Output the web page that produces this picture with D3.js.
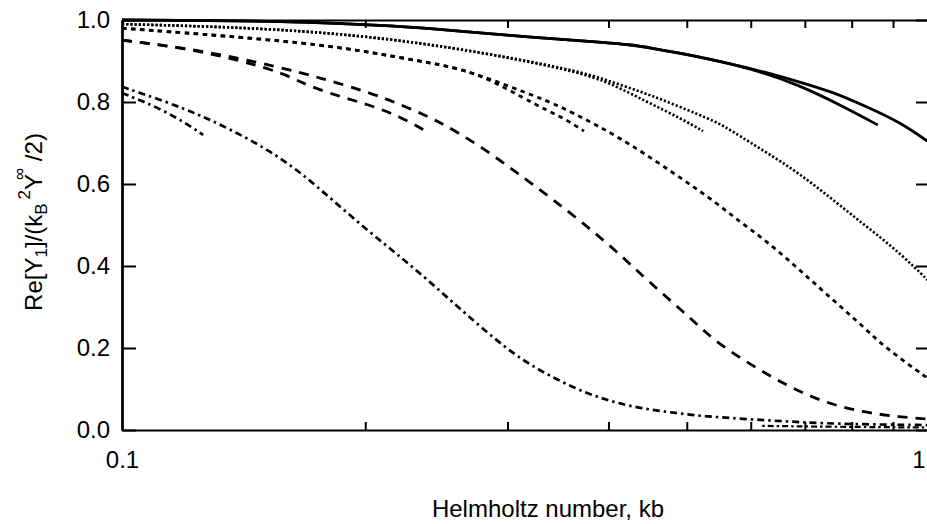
<!DOCTYPE html>
<html>
<head>
<meta charset="utf-8">
<script src="https://cdn.jsdelivr.net/npm/d3@7"></script>
<style>
  html, body { margin: 0; padding: 0; background: #fff; overflow: hidden; }
  svg { display: block; }
  text { font-family: "Liberation Sans", Arial, Helvetica, sans-serif; fill: #000; }
</style>
</head>
<body>
<svg id="chart" width="927" height="524"></svg>
<script>
// ---- Data (Helmholtz number kb, normalised Re[Y1]) ----
const solidLongKb   = [0.1, 0.1614, 0.2209, 0.2547, 0.311, 0.3905, 0.429, 0.450, 0.505, 0.599, 0.690, 0.759, 0.836, 0.918, 1.0];
const solidLongY    = [1.0, 0.998, 0.985, 0.975, 0.960, 0.946, 0.939, 0.932, 0.915, 0.883, 0.849, 0.824, 0.788, 0.751, 0.700];
const solidShortKb  = [0.1, 0.1614, 0.2209, 0.2547, 0.311, 0.3905, 0.429, 0.450, 0.505, 0.599, 0.690, 0.774, 0.862];
const solidShortY   = [1.0, 0.998, 0.985, 0.975, 0.960, 0.946, 0.939, 0.932, 0.915, 0.883, 0.841, 0.793, 0.744];

const dottedLongKb  = [0.1, 0.1249, 0.1525, 0.1932, 0.2569, 0.3657, 0.405, 0.4466, 0.4905, 0.5451, 0.5655, 0.6288, 0.690, 0.759, 0.836, 0.918, 1.0];
const dottedLongY   = [0.990, 0.985, 0.978, 0.964, 0.934, 0.878, 0.848, 0.820, 0.788, 0.751, 0.732, 0.676, 0.625, 0.561, 0.495, 0.432, 0.360];
const dottedShortKb = [0.1, 0.1249, 0.1525, 0.1932, 0.2569, 0.3657, 0.405, 0.4466, 0.4905, 0.5236];
const dottedShortY  = [0.990, 0.985, 0.978, 0.964, 0.934, 0.876, 0.843, 0.800, 0.761, 0.729];

const shortDashLongKb  = [0.1, 0.1758, 0.2253, 0.2569, 0.2830, 0.3135, 0.3415, 0.3871, 0.4377, 0.5451, 0.5705, 0.6288, 0.690, 0.7586, 0.8356, 0.8746, 1.0];
const shortDashLongY   = [0.980, 0.944, 0.905, 0.886, 0.859, 0.825, 0.798, 0.744, 0.683, 0.554, 0.520, 0.460, 0.390, 0.317, 0.244, 0.205, 0.122];
const shortDashShortKb = [0.1, 0.1758, 0.2253, 0.2569, 0.2830, 0.3135, 0.3357, 0.3554, 0.3731];
const shortDashShortY  = [0.980, 0.944, 0.905, 0.886, 0.859, 0.810, 0.780, 0.756, 0.729];

const longDashLongKb  = [0.1, 0.1249, 0.1568, 0.1758, 0.201, 0.2209, 0.2419, 0.2547, 0.2813, 0.3082, 0.3386, 0.3719, 0.4099, 0.4502, 0.5089, 0.5388, 0.5988, 0.6653, 0.7372, 0.8262, 0.918, 1.0];
const longDashLongY   = [0.951, 0.927, 0.885, 0.859, 0.825, 0.795, 0.760, 0.737, 0.685, 0.627, 0.568, 0.505, 0.435, 0.359, 0.268, 0.220, 0.160, 0.108, 0.068, 0.043, 0.032, 0.026];
const longDashShortKb = [0.1, 0.1249, 0.1568, 0.166, 0.1824, 0.201, 0.2209, 0.2385];
const longDashShortY  = [0.951, 0.927, 0.875, 0.848, 0.818, 0.795, 0.765, 0.727];

const dashDotLongKb  = [0.1, 0.1137, 0.1249, 0.1372, 0.1512, 0.166, 0.1824, 0.201, 0.2209, 0.2426, 0.2673, 0.2996, 0.3228, 0.3554, 0.3905, 0.429, 0.4727, 0.5193, 0.5988, 0.690, 0.7962, 1.0];
const dashDotLongY   = [0.837, 0.800, 0.768, 0.730, 0.685, 0.630, 0.560, 0.488, 0.423, 0.355, 0.280, 0.197, 0.154, 0.110, 0.077, 0.056, 0.044, 0.034, 0.026, 0.019, 0.014, 0.012];
const dashDotShortKb = [0.1, 0.1137, 0.126];
const dashDotShortY  = [0.822, 0.778, 0.720];
const dashDotLowKb   = [0.62, 0.75, 1.0];
const dashDotLowY    = [0.010, 0.008, 0.006];

const xMinorTicks = [0.2, 0.3, 0.4, 0.5, 0.6, 0.7, 0.8, 0.9];
const xLabelTicks = [0.1, 1];
const yTicks = [0.0, 0.2, 0.4, 0.6, 0.8, 1.0];

// ---- Layout ----
const svg = d3.select("#chart");
const L = 122, R = 930, T = 20, B = 430;
const x = d3.scaleLog().domain([0.1, 1]).range([L, R]);
const y = d3.scaleLinear().domain([0, 1]).range([B, T]);

const series = [
  { kb: solidLongKb, v: solidLongY, dash: null, w: 2.8 },
  { kb: solidShortKb, v: solidShortY, dash: null, w: 2.8 },
  { kb: dottedLongKb, v: dottedLongY, dash: "2.2,2", w: 2.6 },
  { kb: dottedShortKb, v: dottedShortY, dash: "2.2,2", w: 2.6 },
  { kb: shortDashLongKb, v: shortDashLongY, dash: "4.5,4.5", w: 2.8 },
  { kb: shortDashShortKb, v: shortDashShortY, dash: "4.5,4.5", w: 2.8 },
  { kb: longDashLongKb, v: longDashLongY, dash: "10,8", w: 2.8 },
  { kb: longDashShortKb, v: longDashShortY, dash: "10,8", w: 2.8 },
  { kb: dashDotLongKb, v: dashDotLongY, dash: "7,4,2.5,4", w: 2.7 },
  { kb: dashDotShortKb, v: dashDotShortY, dash: "7,4,2.5,4", w: 2.7 },
  { kb: dashDotLowKb, v: dashDotLowY, dash: "2.5,3,6,3", w: 2.2 }
];

const line = d3.line().x(d => x(d[0])).y(d => y(d[1])).curve(d3.curveBasis);

svg.append("g").selectAll("path").data(series).join("path")
  .attr("d", s => line(s.kb.map((k, i) => [k, s.v[i]])))
  .attr("fill", "none")
  .attr("stroke", "#000")
  .attr("stroke-width", s => s.w)
  .attr("stroke-dasharray", s => s.dash)
  .attr("stroke-linejoin", "round");

// ---- Axes ----
function styleAxis(g, w) {
  g.selectAll(".domain").attr("stroke", "#000").attr("stroke-width", w);
  g.selectAll(".tick line").attr("stroke", "#000").attr("stroke-width", 2);
  g.selectAll("text").style("font-family", '"Liberation Sans", Arial, sans-serif').style("font-size", "24px").attr("fill", "#000");
}

// bottom minor ticks (inward)
const gB = svg.append("g").attr("transform", `translate(0,${B})`)
  .call(d3.axisBottom(x).tickValues(xMinorTicks).tickSize(-8).tickSizeOuter(0).tickFormat(""));
styleAxis(gB, 2.2);
// bottom labels
const gBL = svg.append("g").attr("transform", `translate(0,${B})`)
  .call(d3.axisBottom(x).tickValues(xLabelTicks).tickSize(0).tickPadding(21).tickFormat(d => d === 1 ? "1" : "0.1"));
gBL.select(".domain").remove();
styleAxis(gBL, 2);
gBL.selectAll(".tick").filter(d => d === 1).select("text").attr("text-anchor", "end").attr("x", -5);

// top ticks (inward)
const gT = svg.append("g").attr("transform", `translate(0,${T})`)
  .call(d3.axisTop(x).tickValues(xMinorTicks).tickSize(-8).tickSizeOuter(0).tickFormat(""));
styleAxis(gT, 2.2);

// left axis
const gL = svg.append("g").attr("transform", `translate(${L},0)`)
  .call(d3.axisLeft(y).tickValues(yTicks).tickSize(-14).tickSizeOuter(0).tickPadding(12).tickFormat(d3.format(".1f")));
styleAxis(gL, 2.8);

// right axis
const gR = svg.append("g").attr("transform", `translate(${R},0)`)
  .call(d3.axisRight(y).tickValues(yTicks).tickSize(-14).tickSizeOuter(0).tickFormat(""));
styleAxis(gR, 2.2);

// ---- Axis titles ----
svg.append("text")
  .attr("x", 548).attr("y", 517)
  .attr("text-anchor", "middle")
  .style("font-size", "24px")
  .text("Helmholtz number, kb");

const yt = svg.append("text")
  .attr("transform", "translate(42,222) rotate(-90)")
  .attr("text-anchor", "middle")
  .style("font-size", "24px");
yt.append("tspan").text("Re[Y");
yt.append("tspan").attr("dy", 5).style("font-size", "17px").text("1");
yt.append("tspan").attr("dy", -5).text("]/(k");
yt.append("tspan").attr("dy", 5).style("font-size", "17px").text("B");
yt.append("tspan").attr("dy", -17).attr("dx", 4).style("font-size", "17px").text("2");
yt.append("tspan").attr("dy", 12).text("Y");
yt.append("tspan").attr("dy", -17).attr("dx", -6).style("font-size", "17px").text("∞");
yt.append("tspan").attr("dy", 17).text(" /2)");
</script>
</body>
</html>
